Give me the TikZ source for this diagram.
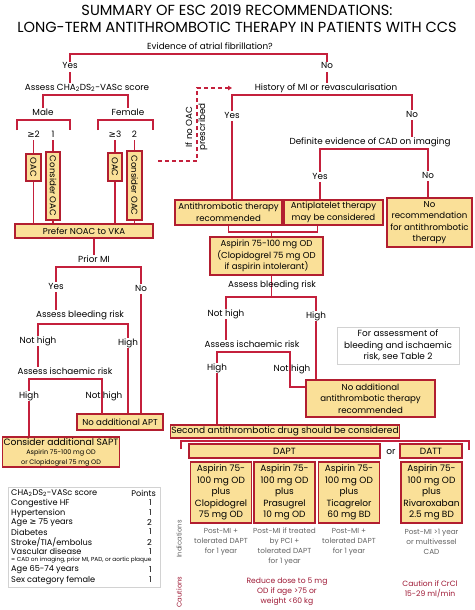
\documentclass[tikz,border=0pt]{standalone}
\usepackage{fontspec}
\setmainfont{Poppins}
\newfontfamily\symfont{DejaVu Sans}
\usepackage{graphicx}
\usetikzlibrary{arrows.meta}
\definecolor{escred}{RGB}{196,32,60}
\definecolor{escborder}{RGB}{178,30,48}
\definecolor{escfill}{RGB}{250,224,152}
\definecolor{escgrey}{RGB}{100,100,100}
\definecolor{escframe}{RGB}{210,210,210}
\definecolor{esccaut}{RGB}{158,24,52}
\tikzset{%
  lbl/.style={inner sep=1pt, text height=6pt, text depth=2pt, font=\fontsize{8.8}{10}\selectfont},
  box/.style={draw=escborder, fill=escfill, line width=1.5pt, inner sep=1pt, align=center, font=\fontsize{8.6}{11.5}\selectfont},
  vbox/.style={box, inner sep=0pt},
  drugbox/.style={box, minimum width=61pt, minimum height=61pt, font=\fontsize{9}{11.5}\selectfont},
  conn/.style={draw=escred, line width=1.5pt},
  dashconn/.style={conn, dash pattern=on 4pt off 3pt},
  note/.style={align=center, inner sep=1pt, font=\fontsize{7.3}{10}\selectfont, text=escgrey},
  caut/.style={align=center, inner sep=1pt, font=\fontsize{7.6}{10}\selectfont, text=esccaut},
  frame/.style={draw=escframe, line width=1pt},
  tabrow/.style={anchor=west, inner sep=0pt, font=\fontsize{8.2}{9}\selectfont},
  tabpts/.style={anchor=east, inner sep=0pt, font=\fontsize{8.2}{9}\selectfont},
  title/.style={inner sep=0pt, font=\fontsize{14.6}{15}\selectfont}
}

\begin{document}
\begin{tikzpicture}[x=1pt,y=-1pt]
\path[fill=white, use as bounding box] (0,0) rectangle (474,610);

% title
\node[title] (t1) at (237,10) {SUMMARY OF ESC 2019 RECOMMENDATIONS:};
\node[title] (t2) at (237,27) {LONG-TERM ANTITHROMBOTIC THERAPY IN PATIENTS WITH CCS};

% atrial fibrillation
\node[lbl] (af) at (210,47) {Evidence of atrial fibrillation?};
\node[lbl] (afyes) at (70,67) {Yes};
\node[lbl] (afno) at (327,67) {No};
\draw[conn] (afyes.north) |- ([yshift=-2pt]af.south) -| (afno.north);

% CHA2DS2-VASc branch
\node[lbl] (cha) at (87,88) {Assess CHA\textsubscript{2}DS\textsubscript{2}-VASc score};
\draw[conn] (afyes.south) -- (afyes.south |- cha.north);
\node[lbl] (male) at (43,113) {Male};
\node[lbl] (female) at (128,113) {Female};
\draw[conn] (male.north) |- ([yshift=-2pt]cha.south) -| (female.north);
\coordinate (mbl) at (17,130);
\coordinate (mbr) at (70,130);
\coordinate (fbl) at (98,130);
\coordinate (fbr) at (153,130);
\draw[conn] (mbl) |- ([yshift=-2pt]male.south) -| (mbr);
\draw[conn] (fbl) |- ([yshift=-2pt]female.south) -| (fbr);
\node[lbl] (m2) at (33.5,135) {{\symfont ≥}2};
\node[lbl] (m1) at (53,135) {1};
\node[lbl] (f3) at (115,135) {{\symfont ≥}3};
\node[lbl] (f2) at (134.5,135) {2};
\node[vbox, minimum width=15pt, minimum height=27pt] (moac) at (33.5,167.5) {\rotatebox{-90}{OAC}};
\node[vbox, minimum width=14pt, minimum height=68pt] (mcoac) at (53,186) {\rotatebox{-90}{Consider OAC}};
\node[vbox, minimum width=14pt, minimum height=28pt] (foac) at (115,167) {\rotatebox{-90}{OAC}};
\node[vbox, minimum width=15pt, minimum height=69pt] (fcoac) at (134.5,185.5) {\rotatebox{-90}{Consider OAC}};
\node[box, minimum width=138pt, minimum height=14pt] (noac) at (84,231) {Prefer NOAC to VKA};
\draw[conn] (m2.south) -- (moac.north);
\draw[conn] (m1.south) -- (mcoac.north);
\draw[conn] (f3.south) -- (foac.north);
\draw[conn] (f2.south) -- (fcoac.north);
\draw[conn] (moac.south) -- (moac.south |- noac.north);
\draw[conn] (mcoac.south) -- (mcoac.south |- noac.north);
\draw[conn] (foac.south) -- (foac.south |- noac.north);
\draw[conn] (fcoac.south) -- (fcoac.south |- noac.north);

% if no OAC prescribed
\node[lbl, rotate=90] (ifno1) at (190,127) {If no OAC};
\node[lbl, rotate=90] (ifno2) at (203,127) {prescribed};
\coordinate (dsh0) at (158,161);
\coordinate (dsh1) at (197,88);
\coordinate (dsh2) at (232,88);
\draw[dashconn, -{Triangle[length=4pt, width=4.5pt]}] (dsh0) -| (dsh1) -- (dsh2);

% prior MI
\node[lbl] (priormi) at (94,260) {Prior MI};
\draw[conn] (priormi.north |- noac.south) -- (priormi.north);
\node[lbl] (pmyes) at (56,287) {Yes};
\node[lbl] (pmno) at (141,289) {No};
\draw[conn] (pmyes.north) |- ([yshift=-2pt]priormi.south) -| (pmno.north);
\node[lbl] (bleedL) at (80,315) {Assess bleeding risk};
\draw[conn] (pmyes.south) -- (pmyes.south |- bleedL.north);
\node[lbl] (bLnh) at (38,341) {Not high};
\node[lbl] (bLh) at (128,343) {High};
\draw[conn] (bLnh.north) |- ([yshift=-4pt]bleedL.south) -| (bLh.north);
\node[lbl] (ischL) at (65,372) {Assess ischaemic risk};
\draw[conn] (bLnh.south) -- (bLnh.south |- ischL.north);
\node[box, minimum width=86pt, minimum height=16pt] (noapt) at (120,422) {No additional APT};
\node[box, minimum width=116pt, minimum height=30pt, font=\fontsize{9.2}{9.5}\selectfont] (sapt) at (61,452)
  {Consider additional SAPT\\{\fontsize{6.5}{8}\selectfont Aspirin 75-100 mg OD}\\{\fontsize{6.5}{8}\selectfont or Clopidogrel 75 mg OD}};
\node[lbl] (iLh) at (29,396) {High};
\coordinate (iLk) at (102,414);
\draw[conn] (iLh.north) |- ([yshift=-2pt]ischL.south) -| (iLk);
\node[lbl] (iLnh) at (104,396) {Not high};
\draw[conn] (iLh.south) -- (iLh.south |- sapt.north);
\draw[conn] (bLh.south) -- (bLh.south |- noapt.north);
\draw[conn] (pmno.south) -- (pmno.south |- noapt.north);

% history of MI
\node[lbl] (hist) at (326,88) {History of MI or revascularisation};
\draw[conn] (afno.south) -- (afno.south |- hist.north);
\node[lbl] (hyes) at (232,116) {Yes};
\node[lbl] (hno) at (412,115) {No};
\draw[conn] (hyes.north) |- ([yshift=-2pt]hist.south) -| (hno.north);
\node[lbl] (cad) at (370,142) {Definite evidence of CAD on imaging};
\draw[conn] (hno.south) -- (hno.south |- cad.north);
\node[lbl] (cyes) at (320,177) {Yes};
\node[lbl] (cno) at (428,176) {No};
\draw[conn] (cyes.north) |- ([yshift=-2pt]cad.south) -| (cno.north);
\node[box, minimum width=107pt, minimum height=25pt] (atr) at (228.5,212.5) {Antithrombotic therapy\\recommended};
\node[box, minimum width=99pt, minimum height=25pt] (apl) at (333.5,212.5) {Antiplatelet therapy\\may be considered};
\node[box, minimum width=85pt, minimum height=49pt] (norec) at (429.5,222.5) {No\\recommendation\\for antithrombotic\\therapy};
\draw[conn] (hyes.south) -- (hyes.south |- atr.north);
\draw[conn] (cyes.south) -- (cyes.south |- apl.north);
\draw[conn] (cno.south) -- (cno.south |- norec.north);
\node[box, minimum width=113pt, minimum height=38pt] (asp) at (266.5,256) {Aspirin 75-100 mg OD\\(Clopidogrel 75 mg OD\\if aspirin intolerant)};
\coordinate (jn) at (271.5,232);
\draw[conn] (atr.south) |- (jn) -| ([xshift=-16pt]apl.south);
\draw[conn] (jn) -- (jn |- asp.north);

% bleeding / ischaemic risk, right
\coordinate (rbar) at (271.5,297);
\draw[conn] (asp.south -| rbar) -- (rbar);
\node[lbl] (bleedR) at (272,285) {Assess bleeding risk};
\node[lbl] (bRnh) at (226,314) {Not high};
\node[lbl] (bRh) at (316,316) {High};
\draw[conn] (bRnh.north) |- (rbar) -| (bRh.north);
\node[lbl] (ischR) at (252,345) {Assess ischaemic risk};
\draw[conn] (bRnh.south) -- (bRnh.south |- ischR.north);
\node[box, minimum width=129pt, minimum height=37pt] (noatt) at (370.5,398.5) {No additional\\antithrombotic therapy\\recommended};
\node[lbl] (iRh) at (217,368) {High};
\coordinate (iRk) at (290,387);
\draw[conn] (iRh.north) |- ([yshift=-2pt]ischR.south) -| (iRk) -- (iRk -| noatt.west);
\node[lbl] (iRnh) at (292,369) {Not high};
\draw[conn] (bRh.south) -- (bRh.south |- noatt.north);
\node[frame, align=center, inner sep=1pt, minimum width=122pt, minimum height=37pt, font=\fontsize{8.9}{11.5}\selectfont] (info) at (398,345.5)
  {For assessment of\\bleeding and ischaemic\\risk, see Table 2};

% second antithrombotic drug
\node[box, minimum width=224pt, minimum height=13pt, font=\fontsize{9}{11}\selectfont] (second) at (285,431.5) {Second antithrombotic drug should be considered};
\draw[conn] (iRh.south) -- (iRh.south |- second.north);
\coordinate (sbl) at (181,449);
\coordinate (sbr) at (469,450);
\draw[conn] (sbl) -- ++(0,-8) -| (sbr);
\node[box, minimum width=191pt, minimum height=14pt, font=\fontsize{9}{11}\selectfont] (dapt) at (284.5,451) {DAPT};
\node[lbl, font=\fontsize{9}{11}\selectfont] (orlbl) at (391,452) {or};
\node[box, minimum width=62pt, minimum height=14pt, font=\fontsize{9}{11}\selectfont] (datt) at (431,451) {DATT};
\node[drugbox] (clop) at (221,492.5) {Aspirin 75-\\100 mg OD\\plus\\Clopidogrel\\75 mg OD};
\node[drugbox] (pras) at (284.5,492.5) {Aspirin 75-\\100 mg OD\\plus\\Prasugrel\\10 mg OD};
\node[drugbox] (tica) at (349,492.5) {Aspirin 75-\\100 mg OD\\plus\\Ticagrelor\\60 mg BD};
\node[drugbox] (riva) at (431.5,492.5) {Aspirin 75-\\100 mg OD\\plus\\Rivaroxaban\\2.5 mg BD};

% indications and cautions
\node[note, rotate=90, font=\fontsize{6.8}{8}\selectfont] (indlbl) at (179,539) {Indications};
\node[caut, rotate=90, font=\fontsize{6.8}{8}\selectfont] (caulbl) at (179,592) {Cautions};
\node[note] (ind1) at (221,542) {Post-MI +\\tolerated DAPT\\for 1 year};
\node[note] (ind2) at (284.5,547) {Post-MI if treated\\by PCI +\\tolerated DAPT\\for 1 year};
\node[note] (ind3) at (349,542) {Post-MI +\\tolerated DAPT\\for 1 year};
\node[note] (ind4) at (431.5,542) {Post-MI >1 year\\or multivessel\\CAD};
\node[caut] (cau2) at (287,592) {Reduce dose to 5 mg\\OD if age >75 or\\weight <60 kg};
\node[caut] (cau4) at (430,589) {Caution if CrCl\\15-29 ml/min};

% CHA2DS2-VASc table
\node[frame, minimum width=152pt, minimum height=100pt] (chatab) at (84,537) {};
\node[tabrow] (thead) at (11,493) {CHA\textsubscript{2}DS\textsubscript{2}-VASc score};
\node[tabpts] (tpts) at (156,493) {Points};
\foreach \ty/\tname/\tp [count=\i] in {503/Congestive HF/1, 513/Hypertension/1,
    522.5/{Age {\symfont ≥} 75 years}/2, 532/Diabetes/1, 542/{Stroke/TIA/embolus}/2,
    551.5/Vascular disease/1, 570/Age 65-74 years/1, 580/Sex category female/1}
  {
  \node[tabrow] (trow\i) at (11,\ty) {\tname};
  \node[tabpts] (tpt\i) at (152,\ty) {\tp};
  }
\node[tabrow, font=\fontsize{5.8}{7}\selectfont] (tnote) at (11,560.5) {= CAD on imaging, prior MI, PAD, or aortic plaque};
\end{tikzpicture}
\end{document}
